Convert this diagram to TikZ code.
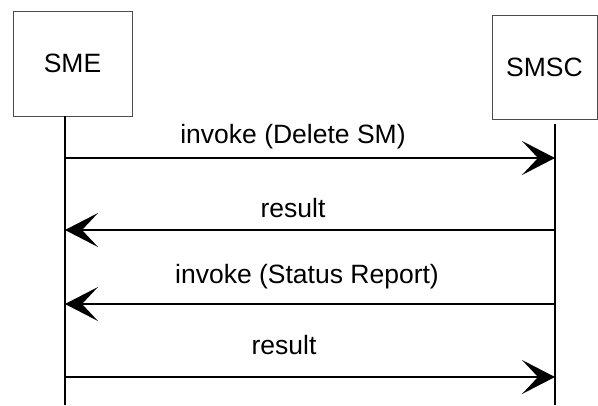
\documentclass[tikz,border=0pt]{standalone}
\usepackage{fontspec}
\setmainfont{Liberation Sans}
\usetikzlibrary{arrows.meta}

\begin{document}
\begin{tikzpicture}[x=1pt, y=-1pt,
  every node/.style={font=\fontsize{26.5}{31}\selectfont},
  entity/.style={rectangle,draw=black!70,line width=1pt,inner sep=0pt},
  lifeline/.style={line width=1.6pt},
  msg/.style={line width=1.6pt,-{Stealth[length=33pt,width=34pt,inset=16pt]}}]
  \useasboundingbox (0,0) rectangle (598,405);

  % Entities
  \node[entity,minimum width=119pt,minimum height=105pt] (SME) at (72.5,63.5) {SME};
  \node[entity,minimum width=105pt,minimum height=104pt] (SMSC) at (544.5,67) {SMSC};

  % Lifelines
  \coordinate (smeTop) at (65,116);
  \coordinate (smeEnd) at (65,405);
  \coordinate (smscTop) at (555,124);
  \coordinate (smscEnd) at (555,405);
  \draw[lifeline] (smeTop) -- (smeEnd);
  \draw[lifeline] (smscTop) -- (smscEnd);

  % Message levels
  \foreach \n/\y in {1/158,2/230,3/304,4/377} {
    \coordinate (L\n) at (65,\y);
    \coordinate (R\n) at (555,\y);
  }

  % Messages
  \draw[msg] (L1) -- (R1);
  \node[anchor=base] (m1) at (293,143) {invoke (Delete SM)};
  \draw[msg] (R2) -- (L2);
  \node[anchor=base] (m2) at (293,217) {result};
  \draw[msg] (R3) -- (L3);
  \node[anchor=base] (m3) at (307,283) {invoke (Status Report)};
  \draw[msg] (L4) -- (R4);
  \node[anchor=base] (m4) at (284,354) {result};

\end{tikzpicture}
\end{document}
